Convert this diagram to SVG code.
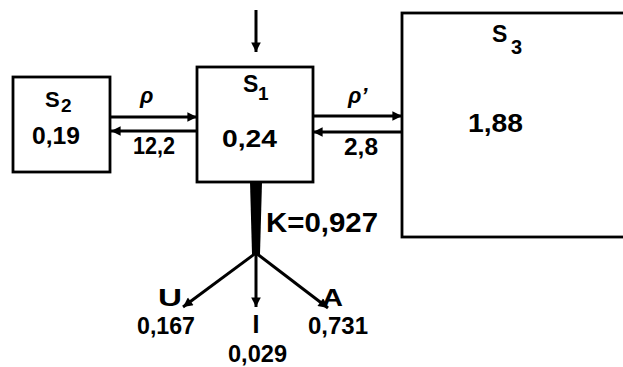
<svg xmlns="http://www.w3.org/2000/svg" width="623" height="367" viewBox="0 0 623 367">
<defs>
<style>
.box{fill:#fff;stroke:#000;stroke-width:2.8}
.ln{stroke:#000;stroke-width:3;fill:none}
.t{font-family:"Liberation Sans",Arial,sans-serif;font-weight:bold;fill:#000}
</style>
<marker id="ah" viewBox="0 0 10 10" refX="10" refY="5" markerWidth="4" markerHeight="3.2" markerUnits="strokeWidth" orient="auto">
<path d="M0,0 L10,5 L0,10 Z" fill="#000"/>
</marker>
</defs>
<rect width="623" height="367" fill="#fff"/>
<g id="connectors">
<line class="ln" x1="256" y1="10" x2="256" y2="52" marker-end="url(#ah)"/>
<line class="ln" x1="111" y1="117" x2="197" y2="117" marker-end="url(#ah)"/>
<line class="ln" x1="197" y1="131" x2="111" y2="131" marker-end="url(#ah)"/>
<line class="ln" x1="313" y1="116" x2="402" y2="116" marker-end="url(#ah)"/>
<line class="ln" x1="402" y1="132" x2="313" y2="132" marker-end="url(#ah)"/>
<polygon points="250,182 262,182 260,254 252,254" fill="#000"/>
<line class="ln" x1="256" y1="253" x2="183" y2="307" marker-end="url(#ah)"/>
<line class="ln" x1="256" y1="253" x2="256" y2="307" marker-end="url(#ah)"/>
<line class="ln" x1="256" y1="253" x2="328" y2="308" marker-end="url(#ah)"/>
<text class="t" x="140" y="103" font-size="22" font-style="italic" font-weight="normal">ρ</text>
<text class="t" x="133" y="154" font-size="24" textLength="42" lengthAdjust="spacingAndGlyphs">12,2</text>
<text class="t" x="348" y="103" font-size="22" font-style="italic" font-weight="normal">ρ’</text>
<text class="t" x="344" y="155" font-size="24" textLength="34" lengthAdjust="spacingAndGlyphs">2,8</text>
<text class="t" x="266" y="232" font-size="27" textLength="112" lengthAdjust="spacingAndGlyphs">K=0,927</text>
<text class="t" x="158" y="306" font-size="24" textLength="24" lengthAdjust="spacingAndGlyphs">U</text>
<text class="t" x="137" y="334" font-size="24" textLength="58" lengthAdjust="spacingAndGlyphs">0,167</text>
<text class="t" x="256" y="333" font-size="25" text-anchor="middle">I</text>
<text class="t" x="228" y="362" font-size="24" textLength="59" lengthAdjust="spacingAndGlyphs">0,029</text>
<text class="t" x="322" y="306" font-size="24" textLength="21" lengthAdjust="spacingAndGlyphs">A</text>
<text class="t" x="308" y="334" font-size="24" textLength="60" lengthAdjust="spacingAndGlyphs">0,731</text>
</g>
<g id="S2">
<rect class="box" x="13" y="77" width="97" height="95"/>
<text class="t" x="45" y="107" font-size="22">S</text>
<text class="t" x="61" y="112" font-size="19">2</text>
<text class="t" x="32" y="144" font-size="24" textLength="48" lengthAdjust="spacingAndGlyphs">0,19</text>
</g>
<g id="S1">
<rect class="box" x="197" y="67" width="116" height="115"/>
<text class="t" x="243" y="92" font-size="23">S</text>
<text class="t" x="258" y="100" font-size="19">1</text>
<text class="t" x="222" y="147" font-size="24" textLength="55" lengthAdjust="spacingAndGlyphs">0,24</text>
</g>
<g id="S3">
<rect class="box" x="402" y="13" width="240" height="224"/>
<text class="t" x="492" y="42" font-size="23">S</text>
<text class="t" x="511" y="54" font-size="20">3</text>
<text class="t" x="468" y="132" font-size="26" textLength="55" lengthAdjust="spacingAndGlyphs">1,88</text>
</g>
</svg>
